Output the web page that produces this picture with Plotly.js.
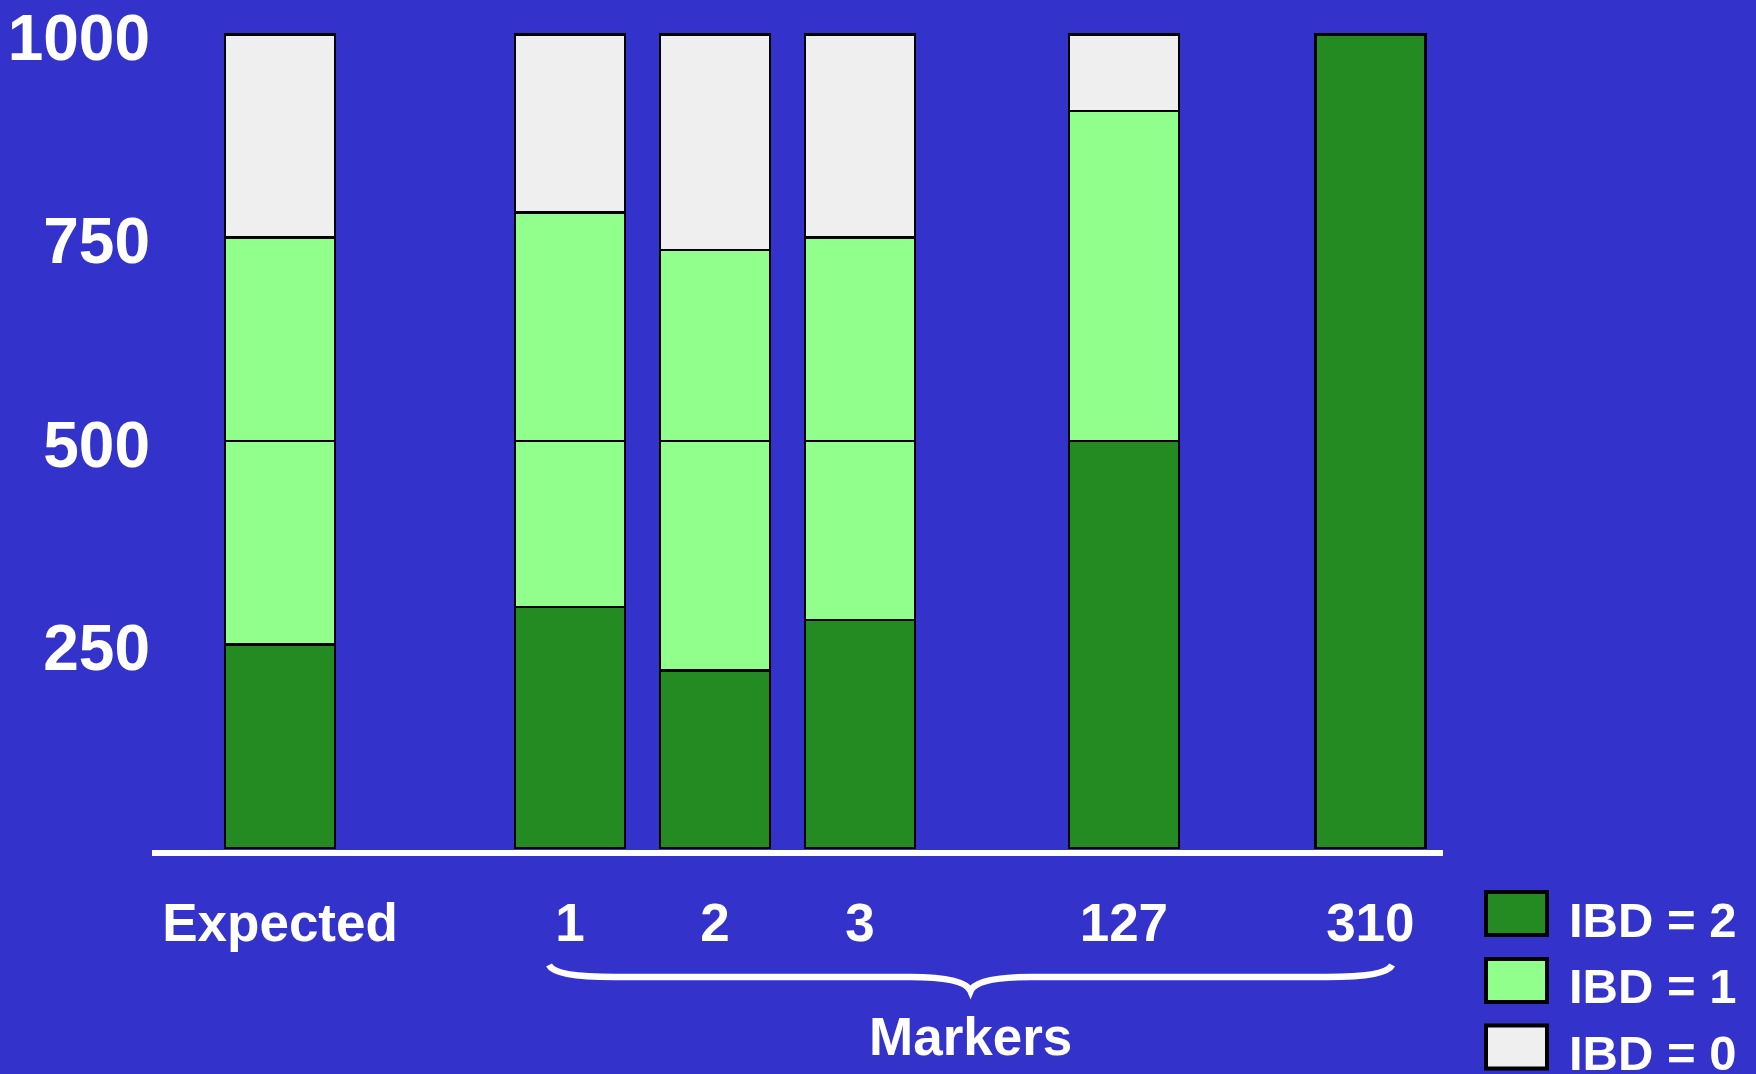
<!DOCTYPE html>
<html>
<head>
<meta charset="utf-8">
<script src="https://cdn.plot.ly/plotly-3.0.1.min.js"></script>
<style>
  html, body { margin: 0; padding: 0; background: #3333CC; }
  #chart { width: 1756px; height: 1074px; }
</style>
</head>
<body>
<div id="chart"></div>
<script>
// Columns: the expected IBD split, then observed counts per marker
const categories = ['Expected', '1', '2', '3', '127', '310'];
// Horizontal slot of each column (gaps mark the skipped markers)
const slotX = [0, 2, 3, 4, 5.82, 7.52];

// Sib pairs (of 1000) sharing 2, 1 or 0 alleles IBD
const ibd2 = [250, 296, 218, 280, 500, 1000];
const ibd1Lower = [250, 204, 282, 220, 0, 0];
const ibd1Upper = [250, 281, 235, 250, 406, 0];
const ibd0 = [250, 219, 265, 250, 94, 0];

const yTicks = [250, 500, 750, 1000];
const yTickText = ['250', '500', '750', '1000'];
const legendNames = ['IBD = 2', 'IBD = 1', 'IBD = 0'];

const BG = '#3333CC';
const DARK = '#238B22';
const LIGHT = '#90FF8B';
const GREY = '#EFEFEF';
const legendColors = [DARK, LIGHT, GREY];

const FONT = 'Liberation Sans, Arial, Helvetica, sans-serif';
const M = { l: 152, r: 313, t: 20, b: 224 };
const W = 1756, H = 1074;
const plotW = W - M.l - M.r, plotH = H - M.t - M.b;
const px2paperX = px => (px - M.l) / plotW;
const px2paperY = py => (H - M.b - py) / plotH;

const BAR_W = 0.7586;
function segment(name, values, color) {
  return {
    type: 'bar', name: name, x: slotX, y: values, width: BAR_W,
    marker: { color: color, line: { color: '#000000', width: 2.6 } },
    showlegend: false, hoverinfo: 'x+y+name'
  };
}

const traces = [
  segment('IBD = 2', ibd2, DARK),
  segment('IBD = 1', ibd1Lower, LIGHT),
  segment('IBD = 1', ibd1Upper, LIGHT),
  segment('IBD = 0', ibd0, GREY)
];

// Curly brace grouping the marker columns
const xs = slotX[1] - 0.145, xe = slotX[slotX.length - 1] + 0.15, xm = (xs + xe) / 2;
const yTip = px2paperY(965), yArm = px2paperY(977), yPoint = px2paperY(991);
const bracePath =
  `M ${xs},${yTip} Q ${xs + 0.04},${yArm} ${xs + 0.45},${yArm} ` +
  `L ${xm - 0.42},${yArm} Q ${xm - 0.04},${yArm} ${xm},${yPoint} ` +
  `Q ${xm + 0.04},${yArm} ${xm + 0.42},${yArm} ` +
  `L ${xe - 0.45},${yArm} Q ${xe - 0.04},${yArm} ${xe},${yTip}`;

const shapes = [{
  type: 'path', xref: 'x', yref: 'paper', path: bracePath,
  line: { color: '#FFFFFF', width: 6.5 }, layer: 'above'
}];

const annotations = [{
  xref: 'x', yref: 'paper', x: xm, y: px2paperY(1036),
  text: 'Markers', showarrow: false, xanchor: 'center', yanchor: 'middle',
  font: { family: FONT, size: 53, color: '#FFFFFF', weight: 'bold' }
}];

// Legend swatches and labels
const rowCenters = [913.5, 980.5, 1047];
legendNames.forEach((name, i) => {
  const cy = rowCenters[i];
  shapes.push({
    type: 'rect', xref: 'paper', yref: 'paper',
    x0: px2paperX(1486), x1: px2paperX(1547),
    y0: px2paperY(cy + 21.5), y1: px2paperY(cy - 21.5),
    fillcolor: legendColors[i], line: { color: '#000000', width: 4 }
  });
  annotations.push({
    xref: 'paper', yref: 'paper', x: px2paperX(1567), y: px2paperY(cy + 6),
    text: name, showarrow: false, xanchor: 'left', yanchor: 'middle',
    font: { family: FONT, size: 49, color: '#FFFFFF', weight: 'bold' }
  });
});

const layout = {
  width: W, height: H,
  margin: M,
  paper_bgcolor: BG, plot_bgcolor: BG,
  barmode: 'stack',
  showlegend: false,
  xaxis: {
    range: [-0.883, 8.021],
    tickmode: 'array', tickvals: slotX, ticktext: categories,
    showgrid: false, zeroline: false,
    showline: true, linecolor: '#FFFFFF', linewidth: 6,
    ticks: '', ticklabelstandoff: 21,
    tickfont: { family: FONT, size: 53, color: '#FFFFFF', weight: 'bold' }
  },
  yaxis: {
    range: [-2.46, 1017.6],
    tickmode: 'array', tickvals: yTicks, ticktext: yTickText,
    showgrid: false, zeroline: false, showline: false,
    ticks: '', ticklabelstandoff: 1, ticklabelshift: 3, ticklabeloverflow: 'allow',
    tickfont: { family: FONT, size: 64, color: '#FFFFFF', weight: 'bold' }
  },
  shapes: shapes,
  annotations: annotations
};

Plotly.newPlot('chart', traces, layout, { staticPlot: true, displayModeBar: false });
</script>
</body>
</html>
